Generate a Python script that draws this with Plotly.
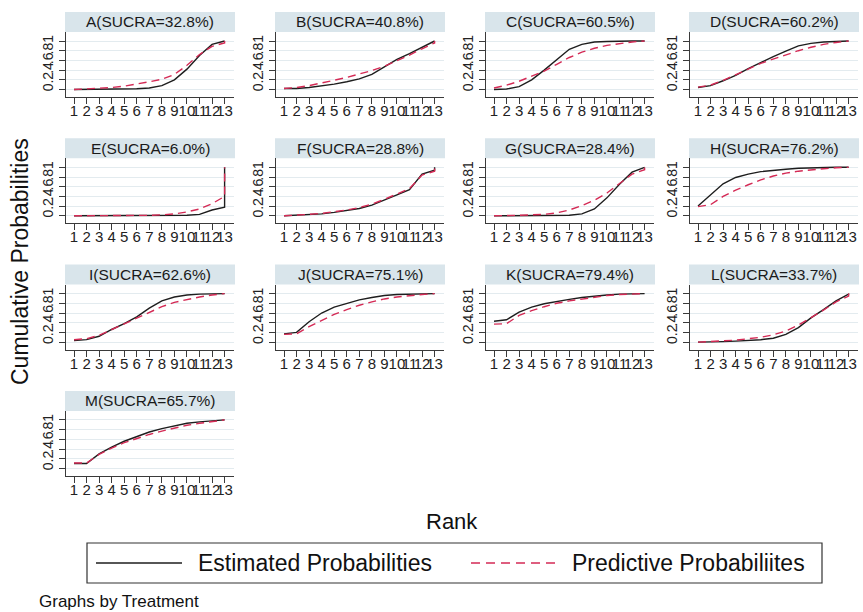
import plotly.graph_objects as go

# ---------------- data ----------------
treatments = ["A", "B", "C", "D", "E", "F", "G", "H", "I", "J", "K", "L", "M"]
sucra = [32.8, 40.8, 60.5, 60.2, 6.0, 28.8, 28.4, 76.2, 62.6, 75.1, 79.4, 33.7, 65.7]
ranks = [1, 2, 3, 4, 5, 6, 7, 8, 9, 10, 11, 12, 13, 13]
rank_ticks = [1, 2, 3, 4, 5, 6, 7, 8, 9, 10, 11, 12, 13]
prob_ticks = [0, 0.2, 0.4, 0.6, 0.8, 1.0]
prob_ticktext = ["0", ".2", ".4", ".6", ".8", "1"]

est_A = [0, 0, 0, 0.005, 0.01, 0.015, 0.03, 0.08, 0.2, 0.42, 0.7, 0.93, 1.0, 1.0]
pred_A = [0.0, 0.01, 0.02, 0.04, 0.07, 0.11, 0.16, 0.21, 0.31, 0.5, 0.72, 0.89, 0.96, 1.0]
est_B = [0.02, 0.02, 0.04, 0.07, 0.11, 0.16, 0.22, 0.31, 0.47, 0.62, 0.74, 0.87, 1.0, 1.0]
pred_B = [0.02, 0.04, 0.08, 0.13, 0.19, 0.25, 0.32, 0.39, 0.48, 0.59, 0.71, 0.84, 0.96, 1.0]
est_C = [0.0, 0.01, 0.06, 0.2, 0.4, 0.62, 0.83, 0.93, 0.98, 0.99, 1.0, 1.0, 1.0, 1.0]
pred_C = [0.03, 0.09, 0.17, 0.27, 0.38, 0.52, 0.66, 0.77, 0.85, 0.91, 0.95, 0.98, 1.0, 1.0]
est_D = [0.04, 0.08, 0.18, 0.29, 0.43, 0.56, 0.68, 0.79, 0.9, 0.95, 0.98, 0.99, 1.0, 1.0]
pred_D = [0.05, 0.09, 0.19, 0.3, 0.42, 0.54, 0.63, 0.72, 0.8, 0.87, 0.93, 0.97, 1.0, 1.0]
est_E = [0, 0, 0, 0, 0, 0, 0, 0, 0, 0.01, 0.03, 0.12, 0.18, 1.0]
pred_E = [0, 0, 0, 0, 0, 0, 0.01, 0.02, 0.04, 0.08, 0.14, 0.25, 0.4, 1.0]
est_F = [0.0, 0.01, 0.02, 0.04, 0.07, 0.11, 0.15, 0.22, 0.32, 0.43, 0.54, 0.86, 0.94, 1.0]
pred_F = [0.0, 0.01, 0.03, 0.05, 0.08, 0.12, 0.17, 0.24, 0.34, 0.45, 0.56, 0.84, 0.92, 1.0]
est_G = [0, 0, 0, 0, 0, 0, 0.01, 0.04, 0.14, 0.37, 0.65, 0.9, 1.0, 1.0]
pred_G = [0, 0, 0.01, 0.02, 0.03, 0.06, 0.12, 0.21, 0.32, 0.47, 0.66, 0.86, 0.95, 1.0]
est_H = [0.2, 0.42, 0.66, 0.79, 0.86, 0.91, 0.94, 0.96, 0.98, 0.99, 1.0, 1.0, 1.0, 1.0]
pred_H = [0.19, 0.23, 0.4, 0.53, 0.64, 0.74, 0.82, 0.88, 0.92, 0.95, 0.97, 0.99, 1.0, 1.0]
est_I = [0.03, 0.05, 0.12, 0.26, 0.38, 0.52, 0.7, 0.85, 0.93, 0.97, 0.99, 1.0, 1.0, 1.0]
pred_I = [0.05, 0.07, 0.14, 0.26, 0.38, 0.5, 0.62, 0.73, 0.82, 0.88, 0.93, 0.97, 1.0, 1.0]
est_J = [0.17, 0.2, 0.42, 0.6, 0.72, 0.8, 0.87, 0.92, 0.96, 0.98, 0.99, 1.0, 1.0, 1.0]
pred_J = [0.16, 0.17, 0.32, 0.45, 0.57, 0.67, 0.76, 0.83, 0.89, 0.93, 0.96, 0.98, 1.0, 1.0]
est_K = [0.43, 0.46, 0.62, 0.72, 0.79, 0.84, 0.88, 0.92, 0.95, 0.97, 0.99, 1.0, 1.0, 1.0]
pred_K = [0.37, 0.38, 0.55, 0.65, 0.73, 0.8, 0.85, 0.89, 0.93, 0.96, 0.98, 0.99, 1.0, 1.0]
est_L = [0, 0, 0.01, 0.02, 0.03, 0.05, 0.08, 0.16, 0.3, 0.5, 0.67, 0.85, 0.99, 1.0]
pred_L = [0, 0.01, 0.02, 0.04, 0.07, 0.1, 0.15, 0.23, 0.35, 0.5, 0.66, 0.83, 0.95, 1.0]
est_M = [0.1, 0.1, 0.3, 0.44, 0.56, 0.66, 0.75, 0.82, 0.88, 0.93, 0.96, 0.98, 1.0, 1.0]
pred_M = [0.11, 0.11, 0.29, 0.42, 0.53, 0.62, 0.7, 0.77, 0.83, 0.89, 0.93, 0.97, 1.0, 1.0]

estimated = [est_A, est_B, est_C, est_D, est_E, est_F, est_G, est_H, est_I, est_J, est_K, est_L, est_M]
predictive = [pred_A, pred_B, pred_C, pred_D, pred_E, pred_F, pred_G, pred_H, pred_I, pred_J, pred_K, pred_L, pred_M]

legend_labels = ["Estimated Probabilities", "Predictive Probabiliites"]

# ---------------- layout geometry (pixels) ----------------
W, H = 863, 612
FONT = "Liberation Sans, Arial, sans-serif"
EST_COLOR = "#1e1e1e"
PRED_COLOR = "#d42a55"
STRIP = "#d9e5eb"
GRID = "#e3ebef"
AXIS = "#3a3a3a"

col_left = [66, 276, 486, 690]
panel_w = 168
row_top0, row_step = 32, 126.3
panel_h = 65
px_per_rank = 12.55
rank1_off = 8.0
y_one_off, y_zero_off = 9.0, 57.5

def fx(p):
    return p / W

def fy(p):
    return 1 - p / H

fig = go.Figure()
shapes = []
annotations = []
layout = {}

for i, name in enumerate(treatments):
    r, c = divmod(i, 4)
    L = col_left[c]
    R = min(L + panel_w, W)
    T = row_top0 + row_step * r
    B = T + panel_h
    k = "" if i == 0 else str(i + 1)
    x0 = 1 - rank1_off / px_per_rank
    x1 = x0 + (R - L) / px_per_rank
    upp = 1.0 / (y_zero_off - y_one_off)
    y0 = -(panel_h - y_zero_off) * upp
    y1 = 1 + y_one_off * upp

    layout["xaxis" + k] = dict(
        domain=[fx(L), fx(R)], range=[x0, x1], anchor="y" + k,
        tickmode="array", tickvals=rank_ticks, ticktext=[str(v) for v in rank_ticks],
        tickangle=0, ticks="outside", ticklen=6, tickcolor=AXIS, tickwidth=1,
        ticklabelstandoff=-6, ticklabeloverflow="allow", automargin=False,
        showline=True, linecolor=AXIS, linewidth=1, showgrid=False, zeroline=False,
        tickfont=dict(family=FONT, size=15, color="#222"), fixedrange=True,
    )
    layout["yaxis" + k] = dict(
        domain=[fy(B), fy(T)], range=[y0, y1], anchor="x" + k,
        tickmode="array", tickvals=prob_ticks, ticktext=prob_ticktext,
        tickangle=-90, ticks="outside", ticklen=6, tickcolor=AXIS, tickwidth=1,
        showline=True, linecolor=AXIS, linewidth=1, showgrid=True,
        gridcolor=GRID, gridwidth=1, zeroline=False,
        tickfont=dict(family=FONT, size=14, color="#222"), fixedrange=True,
    )
    fig.add_trace(go.Scatter(
        x=ranks, y=estimated[i], mode="lines", xaxis="x" + k, yaxis="y" + k,
        line=dict(color=EST_COLOR, width=1.4), showlegend=False, name=legend_labels[0]))
    fig.add_trace(go.Scatter(
        x=ranks, y=predictive[i], mode="lines", xaxis="x" + k, yaxis="y" + k,
        line=dict(color=PRED_COLOR, width=1.4, dash="8px,5px"), showlegend=False,
        name=legend_labels[1]))
    # strip header
    shapes.append(dict(type="rect", xref="paper", yref="paper",
                       x0=fx(L - 1), x1=min(fx(R + 1), 1.0), y0=fy(T), y1=fy(T - 20),
                       fillcolor=STRIP, line=dict(width=0), layer="below"))
    annotations.append(dict(text=f"{name}(SUCRA={sucra[i]:.1f}%)", xref="paper", yref="paper",
                            x=fx((L + R) / 2), y=fy(T - 10), xanchor="center",
                            yanchor="middle", showarrow=False,
                            font=dict(family=FONT, size=15.5, color="#1a1a1a")))

# axis titles
annotations.append(dict(text="Rank", xref="paper", yref="paper", x=fx(452), y=fy(521),
                        xanchor="center", yanchor="middle", showarrow=False,
                        font=dict(family=FONT, size=22, color="#111")))
annotations.append(dict(text="Cumulative Probabilities", xref="paper", yref="paper",
                        x=fx(20), y=fy(262), xanchor="center", yanchor="middle", textangle=-90,
                        showarrow=False, font=dict(family=FONT, size=23, color="#111")))
# legend (drawn manually)
shapes.append(dict(type="rect", xref="paper", yref="paper", x0=fx(87), x1=fx(822),
                   y0=fy(583), y1=fy(543), line=dict(color="#333", width=1.2),
                   fillcolor="white"))
shapes.append(dict(type="line", xref="paper", yref="paper", x0=fx(96), x1=fx(182),
                   y0=fy(563), y1=fy(563), line=dict(color=EST_COLOR, width=1.6)))
shapes.append(dict(type="line", xref="paper", yref="paper", x0=fx(471), x1=fx(555),
                   y0=fy(563), y1=fy(563), line=dict(color=PRED_COLOR, width=1.6, dash="9px,6px")))
annotations.append(dict(text=legend_labels[0], xref="paper", yref="paper", x=fx(196), y=fy(563),
                        xanchor="left", yanchor="middle", showarrow=False,
                        font=dict(family=FONT, size=23, color="#111")))
annotations.append(dict(text=legend_labels[1], xref="paper", yref="paper", x=fx(570), y=fy(563),
                        xanchor="left", yanchor="middle", showarrow=False,
                        font=dict(family=FONT, size=23, color="#111")))
annotations.append(dict(text="Graphs by Treatment", xref="paper", yref="paper", x=fx(37), y=fy(601),
                        xanchor="left", yanchor="middle", showarrow=False,
                        font=dict(family=FONT, size=17, color="#111")))

fig.update_layout(
    width=W, height=H, margin=dict(l=0, r=0, t=0, b=0),
    paper_bgcolor="white", plot_bgcolor="white", showlegend=False,
    shapes=shapes, annotations=annotations, **layout,
)
fig.write_html("out.html")
